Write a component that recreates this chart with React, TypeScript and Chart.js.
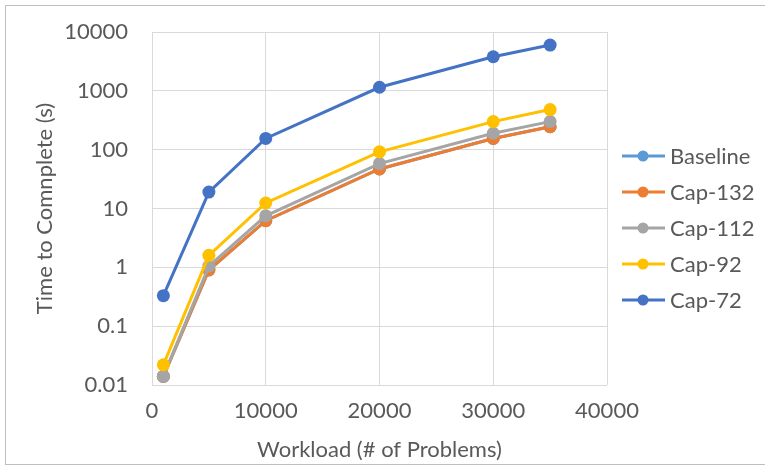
import React, { useEffect, useRef } from "react";
import { Chart, registerables } from "chart.js";

Chart.register(...registerables);

const workloads = [1000, 5000, 10000, 20000, 30000, 35000];
const seriesNames = ["Baseline", "Cap-132", "Cap-112", "Cap-92", "Cap-72"];
const baseline = [0.014, 0.9, 6.2, 47, 155, 245];
const cap132 = [0.014, 0.9, 6.2, 47, 155, 245];
const cap112 = [0.014, 1.05, 7.5, 58, 190, 300];
const cap92 = [0.022, 1.6, 12.4, 92, 300, 480];
const cap72 = [0.33, 19, 155, 1150, 3800, 6000];
const seriesColors = ["#5B9BD5", "#ED7D31", "#A5A5A5", "#FFC000", "#4472C4"];
const yTickValues = [0.01, 0.1, 1, 10, 100, 1000, 10000];
const yTickLabels = ["0.01", "0.1", "1", "10", "100", "1000", "10000"];

const FONT = "Lato, 'Open Sans', sans-serif";
const FS = 22;
const TEXT = "#595959";

const framePlugin = {
  id: "frame",
  beforeDraw(chart: any) {
    const ctx = chart.ctx;
    ctx.save();
    ctx.fillStyle = "#ffffff";
    ctx.fillRect(0, 0, chart.width, chart.height);
    ctx.strokeStyle = "#bfbfbf";
    ctx.lineWidth = 1;
    ctx.strokeRect(5.5, 5.5, chart.width + 10, chart.height - 8);
    ctx.restore();
  },
};

const legendPlugin = {
  id: "customLegend",
  afterDraw(chart: any) {
    const ctx = chart.ctx;
    ctx.save();
    const x0 = 622, x1 = 665, dotX = 643, textX = 670;
    const yStart = 156, step = 36;
    chart.data.datasets.forEach((ds: any, i: number) => {
      const y = yStart + i * step;
      ctx.strokeStyle = ds.borderColor;
      ctx.lineWidth = 3;
      ctx.beginPath();
      ctx.moveTo(x0, y);
      ctx.lineTo(x1, y);
      ctx.stroke();
      ctx.fillStyle = ds.backgroundColor;
      ctx.beginPath();
      ctx.arc(dotX, y, 5.5, 0, Math.PI * 2);
      ctx.fill();
      ctx.fillStyle = TEXT;
      ctx.font = `${FS}px ${FONT}`;
      ctx.textAlign = "left";
      ctx.textBaseline = "middle";
      ctx.fillText(ds.label, textX, y + 1);
    });
    ctx.restore();
  },
};

export default function App() {
  const ref = useRef<HTMLCanvasElement | null>(null);
  useEffect(() => {
    if (!ref.current) return;
    const all = [baseline, cap132, cap112, cap92, cap72];
    const chart = new Chart(ref.current, {
      type: "line",
      data: {
        datasets: all.map((vals, i) => ({
          label: seriesNames[i],
          data: workloads.map((w, j) => ({ x: w, y: vals[j] })),
          borderColor: seriesColors[i],
          backgroundColor: seriesColors[i],
          borderWidth: 3,
          pointRadius: 6.5,
          pointHoverRadius: 6.5,
          pointBorderWidth: 0,
          tension: 0,
          order: all.length - i,
        })),
      },
      options: {
        responsive: false,
        animation: false,
        layout: { padding: { left: 0, right: 158, top: 32, bottom: 0 } },
        plugins: { legend: { display: false }, tooltip: { enabled: false } },
        scales: {
          x: {
            type: "linear",
            min: 0,
            max: 40000,
            ticks: {
              stepSize: 10000,
              color: TEXT,
              font: { family: FONT, size: FS },
              padding: 13,
              maxRotation: 0,
              callback: (v: any) => String(v),
            },
            grid: { color: "#d9d9d9", drawTicks: false },
            border: { display: false },
            title: { display: true, text: "Workload (# of Problems)", color: TEXT, font: { family: FONT, size: FS }, padding: { top: 0, bottom: 4 } },
            afterFit(scale: any) { scale.height = 82; scale.paddingLeft = 0; scale.paddingRight = 0; },
          },
          y: {
            type: "logarithmic",
            min: 0.01,
            max: 10000,
            afterBuildTicks(scale: any) { scale.ticks = yTickValues.map((v) => ({ value: v })); },
            ticks: {
              color: TEXT,
              font: { family: FONT, size: FS },
              padding: 24,
              callback: (v: any) => { const i = yTickValues.indexOf(Number(v)); return i >= 0 ? yTickLabels[i] : ""; },
            },
            grid: { color: "#d9d9d9", drawTicks: false },
            border: { display: false },
            title: { display: true, text: "Time to Comnplete (s)", color: TEXT, font: { family: FONT, size: FS }, padding: { top: 32, bottom: 0 } },
            afterFit(scale: any) { scale.width = 152; scale.paddingTop = 0; scale.paddingBottom = 0; },
          },
        },
      },
      plugins: [framePlugin, legendPlugin],
    });
    return () => chart.destroy();
  }, []);
  return (
    <div style={{ position: "fixed", left: 0, top: 0, width: 765, height: 467 }}>
      <canvas ref={ref} width={765} height={467} />
    </div>
  );
}
